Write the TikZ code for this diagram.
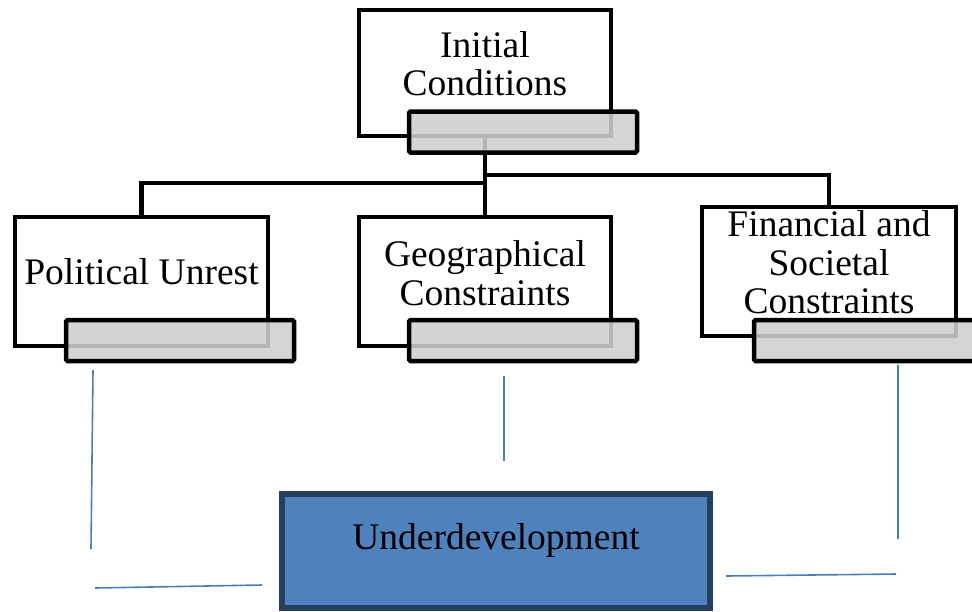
\documentclass[tikz,border=0pt]{standalone}
\usepackage{fontspec}
\setmainfont{Liberation Serif}
\usetikzlibrary{calc}
\definecolor{blueline}{HTML}{4A7EBB}
\definecolor{udfill}{HTML}{4F81BD}
\definecolor{udborder}{HTML}{243F60}
\definecolor{tabgray}{HTML}{CFCFCF}
\begin{document}
\begin{tikzpicture}[x=1pt,y=-1pt,
  whitebox/.style={draw=black, line width=4.5pt, fill=white, inner sep=0pt, minimum height=129pt},
  tabbox/.style={draw=black, line width=4.5pt, fill=tabgray, fill opacity=0.88, rounded corners=1.5pt, inner sep=0pt, minimum width=228pt, minimum height=41pt},
  lbl/.style={font=\fontsize{37.5}{38.5}\selectfont, align=center, inner sep=0pt},
  conn/.style={draw=black, line width=4.5pt},
  bl/.style={draw=blueline, line width=1.6pt}
]
\useasboundingbox (0,0) rectangle (972,611);
\clip (0,0) rectangle (972,611);
% white boxes
\node[whitebox, minimum width=252pt, minimum height=126pt] (ic) at (485,73) {};
\node[whitebox, minimum width=253pt] (pol) at (141.5,281.5) {};
\node[whitebox, minimum width=252pt] (geo) at (485,281.5) {};
\node[whitebox, minimum width=254pt] (fin) at (829,271.5) {};
% texts
\node[lbl] (ict) at ([yshift=9.5pt]ic.center) {Initial\\Conditions};
\node[lbl] (polt) at ([yshift=9.5pt]pol.center) {Political Unrest};
\node[lbl] (geot) at ([yshift=8.5pt]geo.center) {Geographical\\Constraints};
\node[lbl] (fint) at ([yshift=9pt]fin.center) {Financial and\\Societal\\Constraints};
% connectors
\coordinate (jl) at (485,183);
\coordinate (jr) at (485,175);
\draw[conn] (ic.south) -- (geo.north);
\draw[conn] (jl) -| (pol.north);
\draw[conn] (jr) -| (fin.north);
% tabs
\node[tabbox] (ictab) at (523,132) {};
\node[tabbox] (poltab) at (180,340.5) {};
\node[tabbox] (geotab) at (523,340.5) {};
\node[tabbox] (fintab) at (868,340.5) {};
% underdevelopment
\node[draw=udborder, line width=5.5pt, fill=udfill, minimum width=428pt, minimum height=114pt, inner sep=0pt] (ud) at (496,551) {};
\node[lbl] (udt) at ([yshift=11pt]ud.center) {Underdevelopment};
% blue lines
\coordinate (a1) at (93,370); \coordinate (a2) at (91,549);
\coordinate (b1) at (95,588); \coordinate (b2) at (262,585);
\coordinate (c1) at (504,376); \coordinate (c2) at (504,461);
\coordinate (d1) at (898,365); \coordinate (d2) at (898,539);
\coordinate (e1) at (726,576); \coordinate (e2) at (896,574);
\draw[bl] (a1) -- (a2);
\draw[bl] (b1) -- (b2);
\draw[bl] (c1) -- (c2);
\draw[bl] (d1) -- (d2);
\draw[bl] (e1) -- (e2);
\end{tikzpicture}
\end{document}
